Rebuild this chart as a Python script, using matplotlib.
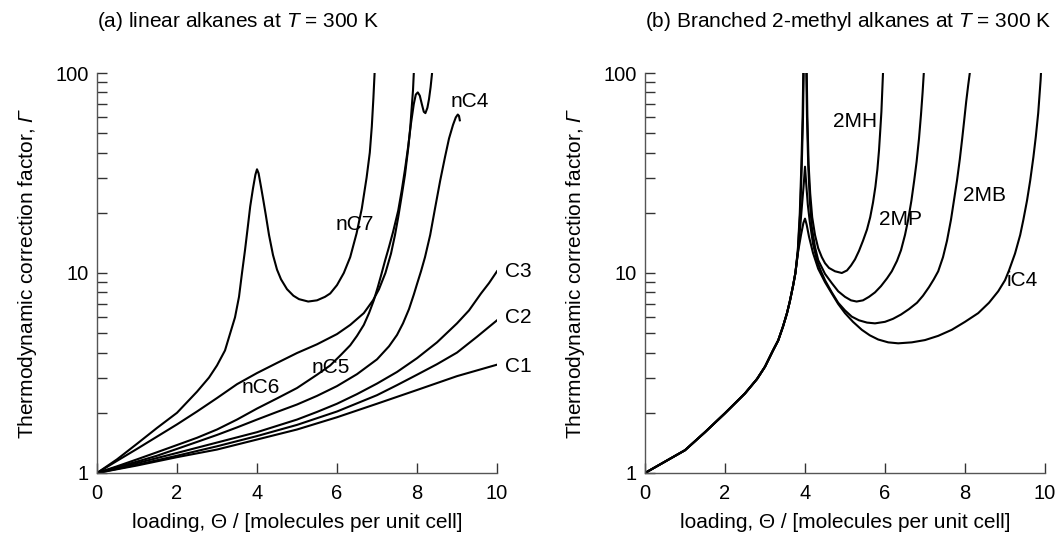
import matplotlib
matplotlib.use("Agg")
import matplotlib.pyplot as plt
from matplotlib.ticker import LogLocator, NullFormatter, FixedLocator, FixedFormatter

plt.rcParams['font.family'] = ['Liberation Sans', 'DejaVu Sans']
plt.rcParams['mathtext.fontset'] = 'custom'
# only the italic symbols (T and Gamma) are typeset in math mode
plt.rcParams['mathtext.rm'] = 'Liberation Sans:italic'
plt.rcParams['mathtext.it'] = 'Liberation Sans:italic'

# ---------------- Panel (a): linear alkanes ----------------
x_C1 = [0, 1, 2, 3, 4, 5, 6, 7, 8, 9, 10]
y_C1 = [1, 1.09, 1.2, 1.31, 1.47, 1.65, 1.9, 2.22, 2.6, 3.05, 3.48]

x_C2 = [0, 1, 2, 3, 4, 5, 6, 7, 7.5, 8, 8.5, 9, 9.5, 10]
y_C2 = [1, 1.1, 1.22, 1.36, 1.53, 1.74, 2.03, 2.45, 2.75, 3.1, 3.5, 4.0, 4.8, 5.8]

x_C3 = [0, 1, 2, 3, 4, 5, 5.5, 6, 6.5, 7, 7.5, 8, 8.5, 9, 9.3, 9.6, 9.8, 10]
y_C3 = [1, 1.12, 1.26, 1.42, 1.6, 1.85, 2.02, 2.22, 2.48, 2.8, 3.2, 3.75, 4.5, 5.6, 6.5, 7.9, 8.9, 10.2]

x_nC4 = [0, 0.5, 1, 1.5, 2, 2.5, 3, 3.5, 4, 4.5, 5, 5.5, 6, 6.5, 7, 7.3, 7.5, 7.65, 7.8, 7.92, 8.0, 8.1,
         8.2, 8.33, 8.45, 8.58, 8.7, 8.8, 8.9, 8.97, 9.02, 9.05, 9.07]
y_nC4 = [1, 1.07, 1.14, 1.22, 1.32, 1.43, 1.55, 1.69, 1.85, 2.02, 2.2, 2.43, 2.72, 3.12, 3.7, 4.3, 4.9, 5.6, 6.6, 7.8, 8.8, 10.2,
         12, 15.5, 21, 29, 38, 47, 55, 60, 62, 61, 58]

x_nC5 = [0, 0.5, 1, 1.5, 2, 2.5, 3, 3.5, 4, 4.5, 5, 5.5, 5.83, 6.1, 6.33, 6.5, 6.67, 6.8, 6.92, 7.02, 7.1, 7.2,
         7.3, 7.4, 7.53, 7.62, 7.7, 7.78, 7.85, 7.92, 7.97, 8.02, 8.07, 8.12, 8.17, 8.21, 8.26, 8.3, 8.34, 8.37, 8.4]
y_nC5 = [1, 1.08, 1.17, 1.27, 1.38, 1.5, 1.65, 1.85, 2.1, 2.36, 2.66, 3.1, 3.45, 3.9, 4.35, 4.85, 5.5, 6.3, 7.3, 8.5, 9.7, 11.5,
         13.5, 16, 20.5, 26, 33, 43, 56, 70, 78, 80, 77, 70, 64, 63, 67, 74, 85, 97, 112]

x_nC6 = [0, 0.5, 1, 1.5, 2, 2.5, 3, 3.5, 4, 4.5, 5, 5.5, 6.0, 6.33, 6.67, 6.9, 7.05, 7.21, 7.35, 7.45, 7.53,
         7.62, 7.7, 7.78, 7.83, 7.87, 7.9, 7.92, 7.94]
y_nC6 = [1, 1.15, 1.32, 1.52, 1.75, 2.03, 2.37, 2.78, 3.16, 3.55, 3.98, 4.4, 4.95, 5.5, 6.3, 7.3, 8.3, 10, 12.5, 15.5, 19,
         24.5, 31, 42, 53, 68, 82, 100, 125]

x_nC7 = [0, 0.5, 1, 1.5, 2, 2.5, 2.8, 3.0, 3.2, 3.33, 3.45, 3.55, 3.625, 3.7, 3.77, 3.83, 3.9, 3.96, 4.0, 4.04,
         4.1, 4.16, 4.22, 4.3, 4.4, 4.5, 4.6, 4.75, 4.91, 5.05, 5.28, 5.5, 5.7, 5.83, 6.0, 6.17, 6.33, 6.49, 6.62,
         6.74, 6.82, 6.87, 6.91, 6.94]
y_nC7 = [1, 1.17, 1.4, 1.68, 2.0, 2.55, 3.0, 3.45, 4.1, 5.0, 6.0, 7.6, 10, 13, 17, 21.5, 26.5, 31, 33, 31.5,
         27, 23, 19.5, 15.5, 12.3, 10.4, 9.3, 8.3, 7.7, 7.4, 7.2, 7.3, 7.6, 7.9, 8.7, 10, 12, 15.8, 21,
         30, 40, 54, 75, 100]

# ---------------- Panel (b): branched 2-methyl alkanes ----------------
x_iC4 = [0, 0.5, 1, 1.5, 2, 2.5, 2.8, 3, 3.2, 3.33, 3.45, 3.55, 3.62, 3.7, 3.76, 3.82, 3.9, 3.96, 4.0, 4.04,
         4.1, 4.2, 4.33, 4.5, 4.67, 4.83, 5.0, 5.2, 5.42, 5.62, 5.83, 6.08, 6.33, 6.67, 7.0, 7.33, 7.67, 8.0,
         8.33, 8.6, 8.83, 9.0, 9.1, 9.25, 9.38, 9.46, 9.55, 9.63, 9.71, 9.77, 9.83, 9.86, 9.89, 9.91]
y_iC4 = [1, 1.14, 1.3, 1.6, 1.99, 2.5, 2.95, 3.4, 4.1, 4.6, 5.4, 6.3, 7.2, 8.6, 10, 12.5, 15.5, 17.8, 18.7, 17.5,
         15.2, 12.6, 10.5, 9.0, 7.9, 7.0, 6.3, 5.7, 5.2, 4.88, 4.65, 4.5, 4.45, 4.5, 4.62, 4.85, 5.2, 5.7,
         6.3, 7.1, 8.1, 9.2, 10.3, 12.5, 15.5, 18.5, 23, 29, 38, 48, 63, 76, 92, 110]

x_2MB = [0, 0.5, 1, 1.5, 2, 2.5, 2.8, 3, 3.2, 3.33, 3.45, 3.55, 3.62, 3.7, 3.76, 3.82, 3.88, 3.93, 3.97, 4.0,
         4.03, 4.07, 4.12, 4.2, 4.3, 4.4, 4.5, 4.67, 4.83, 5.0, 5.17, 5.35, 5.55, 5.75, 6.0, 6.2, 6.4, 6.6, 6.8,
         6.95, 7.1, 7.22, 7.33, 7.45, 7.55, 7.65, 7.73, 7.8, 7.87, 7.93, 7.98, 8.03, 8.08, 8.12, 8.15]
y_2MB = [1, 1.14, 1.3, 1.6, 1.99, 2.5, 2.95, 3.4, 4.1, 4.6, 5.4, 6.3, 7.2, 8.6, 10, 12.5, 17, 22.5, 28, 34,
         28, 22, 18, 14, 11.5, 10.2, 9.2, 8.0, 7.1, 6.5, 6.05, 5.8, 5.65, 5.6, 5.7, 5.9, 6.2, 6.6, 7.1,
         7.7, 8.5, 9.3, 10.2, 12, 14.5, 18.5, 23.5, 29, 37, 47, 58, 72, 87, 100, 115]

x_2MP = [0, 0.5, 1, 1.5, 2, 2.5, 2.8, 3, 3.2, 3.33, 3.45, 3.55, 3.62, 3.7, 3.76, 3.82, 3.88, 3.92, 3.95, 3.98,
         4.0, 4.02, 4.05, 4.08, 4.12, 4.17, 4.25, 4.33, 4.5, 4.67, 4.83, 5.0, 5.15, 5.29, 5.45, 5.6, 5.75, 5.9,
         6.05, 6.17, 6.3, 6.4, 6.5, 6.58, 6.66, 6.73, 6.79, 6.85, 6.9, 6.94, 6.97, 7.0]
y_2MP = [1, 1.14, 1.3, 1.6, 1.99, 2.5, 2.95, 3.4, 4.1, 4.6, 5.4, 6.3, 7.2, 8.6, 10, 12.8, 20, 35, 60, 150,
         600, 150, 60, 35, 23, 17, 13.5, 11.6, 9.9, 8.9, 8.1, 7.6, 7.3, 7.2, 7.3, 7.6, 8.0, 8.6,
         9.4, 10.2, 11.5, 13, 15.5, 18.5, 23, 29, 36, 47, 62, 80, 100, 125]

x_2MH = [0, 0.5, 1, 1.5, 2, 2.5, 2.8, 3, 3.2, 3.33, 3.45, 3.55, 3.62, 3.7, 3.76, 3.82, 3.87, 3.91, 3.94, 3.97,
         4.0, 4.03, 4.06, 4.09, 4.13, 4.18, 4.25, 4.33, 4.42, 4.5, 4.6, 4.75, 4.92, 5.05, 5.15, 5.25, 5.35,
         5.45, 5.55, 5.63, 5.7, 5.76, 5.81, 5.85, 5.88, 5.91, 5.93, 5.95, 5.97]
y_2MH = [1, 1.14, 1.3, 1.6, 1.99, 2.5, 2.95, 3.4, 4.1, 4.6, 5.4, 6.3, 7.2, 8.6, 10, 13, 20, 35, 60, 150,
         1000, 150, 60, 35, 25, 19, 15.5, 13.3, 12.0, 11.2, 10.6, 10.2, 10.0, 10.3, 10.9, 11.7, 12.9,
         14.5, 16.5, 19, 22.5, 27, 33, 41, 51, 64, 80, 100, 125]

yticks = [1, 10, 100]
ytick_labels = ['1', '10', '100']
xticks = [0, 2, 4, 6, 8, 10]

fig = plt.figure(figsize=(10.58, 5.56), dpi=100)
axA = fig.add_axes([97 / 1058, 83 / 556, 400 / 1058, 400 / 556])
axB = fig.add_axes([645 / 1058, 83 / 556, 400 / 1058, 400 / 556])

lw = 1.5
for xs, ys in [(x_C1, y_C1), (x_C2, y_C2), (x_C3, y_C3), (x_nC4, y_nC4),
               (x_nC5, y_nC5), (x_nC6, y_nC6), (x_nC7, y_nC7)]:
    axA.plot(xs, ys, color='black', lw=lw, solid_joinstyle='round')
for xs, ys in [(x_iC4, y_iC4), (x_2MB, y_2MB), (x_2MP, y_2MP), (x_2MH, y_2MH)]:
    axB.plot(xs, ys, color='black', lw=lw, solid_joinstyle='round')

fs = 15
for ax in (axA, axB):
    ax.set_yscale('log')
    ax.set_xlim(0, 10)
    ax.set_ylim(1, 100)
    ax.spines['top'].set_visible(False)
    ax.spines['right'].set_visible(False)
    for s in ('left', 'bottom'):
        ax.spines[s].set_color('#555555')
        ax.spines[s].set_linewidth(1.0)
    ax.xaxis.set_major_locator(FixedLocator(xticks))
    ax.yaxis.set_major_locator(FixedLocator(yticks))
    ax.yaxis.set_major_formatter(FixedFormatter(ytick_labels))
    ax.yaxis.set_minor_locator(LogLocator(base=10, subs=range(2, 10)))
    ax.yaxis.set_minor_formatter(NullFormatter())
    ax.tick_params(which='both', direction='in', length=7, width=1, color='#333333',
                   labelsize=14.5, top=False, right=False)
    ax.tick_params(axis='x', pad=8)
    ax.tick_params(axis='y', pad=6)
    ax.set_xlabel('loading, \u0398 / [molecules per unit cell]', fontsize=fs, labelpad=7)
    ax.set_ylabel(r'Thermodynamic correction factor, $\Gamma$', fontsize=fs, labelpad=12)

axA.set_title(r'(a) linear alkanes at $T$ = 300 K', loc='left', fontsize=fs, pad=33)
axB.set_title(r'(b) Branched 2-methyl alkanes at $T$ = 300 K', loc='left', fontsize=fs, pad=33)

# curve labels
for ax, labels in [
    (axA, [('nC7', 6.45, 17.4, 'center'), ('nC4', 9.33, 72, 'center'), ('nC6', 4.1, 2.69, 'center'),
           ('nC5', 5.85, 3.35, 'center'), ('C3', 10.2, 10.2, 'left'), ('C2', 10.2, 5.96, 'left'),
           ('C1', 10.2, 3.39, 'left')]),
    (axB, [('2MH', 5.25, 57, 'center'), ('2MP', 6.4, 18.6, 'center'), ('2MB', 8.5, 24.5, 'center'),
           ('iC4', 9.42, 9.2, 'center')]),
]:
    for t, x, y, ha in labels:
        ax.text(x, y, t, fontsize=fs, ha=ha, va='center', clip_on=False)

fig.savefig('out.png', dpi=100)
